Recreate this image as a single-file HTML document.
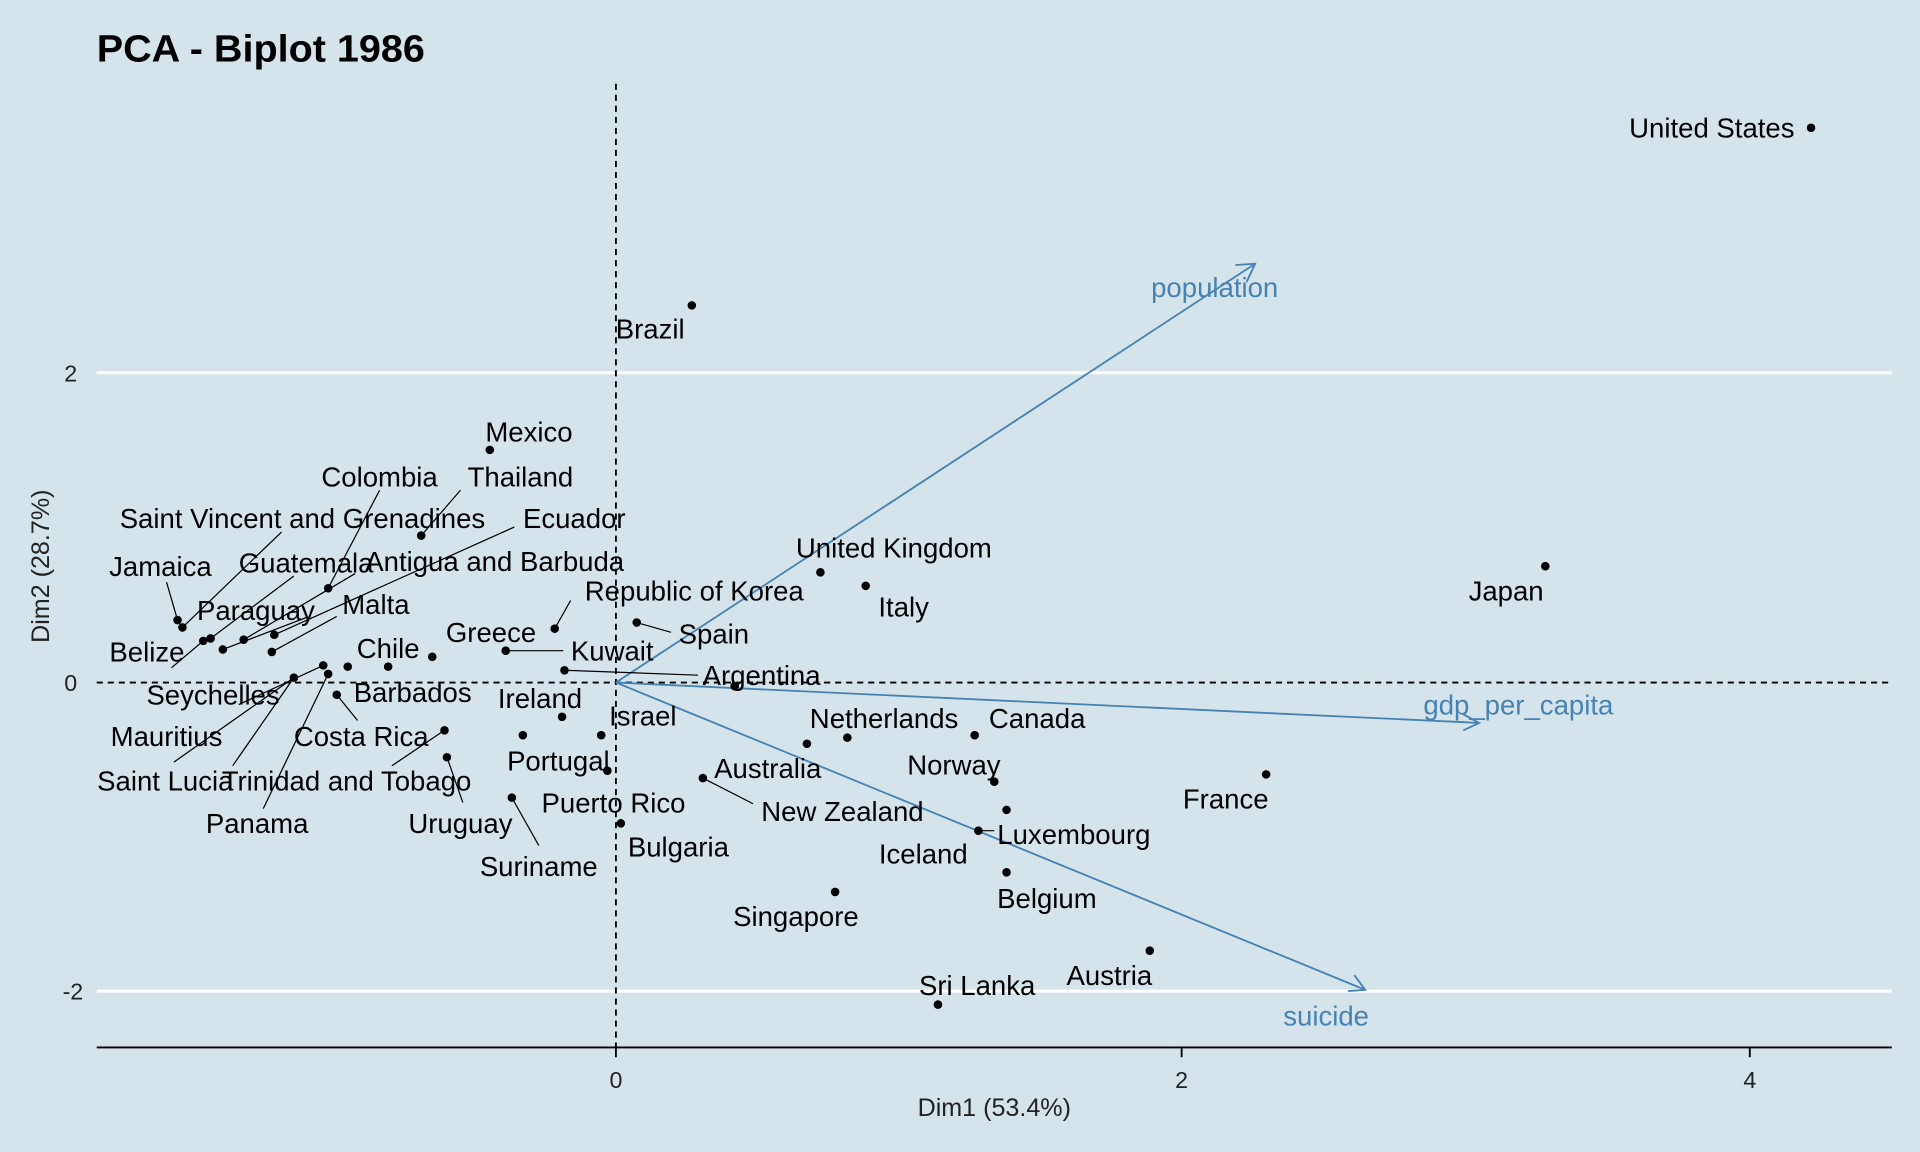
<!DOCTYPE html>
<html><head><meta charset="utf-8"><style>
html,body{margin:0;padding:0;background:#d5e4eb;}
svg{display:block;}
text{font-family:"Liberation Sans",Arial,sans-serif;}
</style></head><body>
<svg width="1920" height="1152" viewBox="0 0 1568 940" xmlns="http://www.w3.org/2000/svg">
<rect width="1568" height="940" fill="#d5e4eb"/>
<text x="79" y="50" font-size="31" font-weight="bold" fill="#000" textLength="268" lengthAdjust="spacingAndGlyphs">PCA - Biplot 1986</text>
<line x1="79" y1="304" x2="1545" y2="304" stroke="#fff" stroke-width="2.5"/>
<line x1="79" y1="809" x2="1545" y2="809" stroke="#fff" stroke-width="2.5"/>
<line x1="79" y1="855" x2="1545" y2="855" stroke="#000" stroke-width="1.5"/>
<g stroke="#000" stroke-width="1.5"><line x1="503" y1="855" x2="503" y2="863"/><line x1="965" y1="855" x2="965" y2="863"/><line x1="1429" y1="855" x2="1429" y2="863"/></g>
<g font-size="19" fill="#222" text-anchor="middle"><text x="503" y="888">0</text><text x="965" y="888">2</text><text x="1429" y="888">4</text></g>
<g font-size="19" fill="#222" text-anchor="end"><text x="63" y="311">2</text><text x="63" y="564">0</text><text x="68" y="816">-2</text></g>
<text x="812" y="911" font-size="20.5" text-anchor="middle" fill="#222">Dim1 (53.4%)</text>
<text transform="translate(40,462) rotate(-90)" font-size="20.5" text-anchor="middle" fill="#222">Dim2 (28.7%)</text>
<line x1="503" y1="68" x2="503" y2="855" stroke="#000" stroke-width="1.5" stroke-dasharray="5,4"/>
<line x1="79" y1="557" x2="1545" y2="557" stroke="#000" stroke-width="1.5" stroke-dasharray="5,4"/>
<g stroke="#4682b4" stroke-width="1.5" fill="none">
<line x1="503" y1="557" x2="1025" y2="215"/><polyline points="1009,216 1025,215 1018,230"/>
<line x1="503" y1="557" x2="1208" y2="590"/><polyline points="1195,583 1208,590 1195,596"/>
<line x1="503" y1="557" x2="1115" y2="808"/><polyline points="1101,809 1115,808 1106,796"/>
</g>
<g font-size="22.5" fill="#4682b4" text-anchor="middle"><text x="992" y="242">population</text><text x="1240" y="583">gdp_per_capita</text><text x="1083" y="837">suicide</text></g>
<g stroke="#000" stroke-width="1" fill="none">
<line x1="344" y1="437" x2="376" y2="400"/><line x1="268" y1="480" x2="310" y2="400"/><line x1="149" y1="512" x2="230" y2="434"/><line x1="224" y1="518" x2="420" y2="430"/><line x1="145" y1="506" x2="136" y2="475"/><line x1="172" y1="521" x2="240" y2="470"/><line x1="199" y1="522" x2="290" y2="468"/><line x1="182" y1="530" x2="250" y2="504"/><line x1="222" y1="532" x2="275" y2="503"/><line x1="166" y1="523" x2="140" y2="545"/><line x1="453" y1="513" x2="466" y2="490"/><line x1="520" y1="508" x2="548" y2="516"/><line x1="413" y1="531" x2="460" y2="531"/><line x1="461" y1="547" x2="570" y2="551"/><line x1="264" y1="543" x2="195" y2="575"/><line x1="240" y1="553" x2="142" y2="622"/><line x1="240" y1="553" x2="190" y2="625"/><line x1="268" y1="550" x2="215" y2="660"/><line x1="275" y1="567" x2="292" y2="588"/><line x1="363" y1="596" x2="320" y2="625"/><line x1="365" y1="618" x2="378" y2="655"/><line x1="418" y1="651" x2="440" y2="690"/><line x1="574" y1="635" x2="615" y2="656"/><line x1="799" y1="678" x2="812" y2="678"/>
</g>
<g fill="#000">
<circle cx="1479" cy="104" r="3.5"/><circle cx="565" cy="249" r="3.5"/><circle cx="400" cy="367" r="3.5"/><circle cx="344" cy="437" r="3.5"/><circle cx="1262" cy="462" r="3.5"/><circle cx="670" cy="467" r="3.5"/><circle cx="707" cy="478" r="3.5"/><circle cx="268" cy="480" r="3.5"/><circle cx="453" cy="513" r="3.5"/><circle cx="520" cy="508" r="3.5"/><circle cx="145" cy="506" r="3.5"/><circle cx="149" cy="512" r="3.5"/><circle cx="166" cy="523" r="3.5"/><circle cx="172" cy="521" r="3.5"/><circle cx="182" cy="530" r="3.5"/><circle cx="199" cy="522" r="3.5"/><circle cx="224" cy="518" r="3.5"/><circle cx="222" cy="532" r="3.5"/><circle cx="264" cy="543" r="3.5"/><circle cx="284" cy="544" r="3.5"/><circle cx="317" cy="544" r="3.5"/><circle cx="353" cy="536" r="3.5"/><circle cx="413" cy="531" r="3.5"/><circle cx="461" cy="547" r="3.5"/><circle cx="240" cy="553" r="3.5"/><circle cx="268" cy="550" r="3.5"/><circle cx="600" cy="560" r="3.5"/><circle cx="275" cy="567" r="3.5"/><circle cx="459" cy="585" r="3.5"/><circle cx="363" cy="596" r="3.5"/><circle cx="427" cy="600" r="3.5"/><circle cx="491" cy="600" r="3.5"/><circle cx="659" cy="607" r="3.5"/><circle cx="692" cy="602" r="3.5"/><circle cx="796" cy="600" r="3.5"/><circle cx="365" cy="618" r="3.5"/><circle cx="496" cy="629" r="3.5"/><circle cx="574" cy="635" r="3.5"/><circle cx="812" cy="638" r="3.5"/><circle cx="418" cy="651" r="3.5"/><circle cx="507" cy="672" r="3.5"/><circle cx="822" cy="661" r="3.5"/><circle cx="1034" cy="632" r="3.5"/><circle cx="799" cy="678" r="3.5"/><circle cx="822" cy="712" r="3.5"/><circle cx="682" cy="728" r="3.5"/><circle cx="939" cy="776" r="3.5"/><circle cx="766" cy="820" r="3.5"/>
</g>
<g font-size="22.5" fill="#000" text-anchor="middle">
<text x="1398" y="112">United States</text><text x="531" y="276">Brazil</text><text x="432" y="360">Mexico</text><text x="425" y="397">Thailand</text><text x="310" y="397">Colombia</text><text x="247" y="431">Saint Vincent and Grenadines</text><text x="469" y="431">Ecuador</text><text x="131" y="470">Jamaica</text><text x="250" y="467">Guatemala</text><text x="404" y="466">Antigua and Barbuda</text><text x="209" y="506">Paraguay</text><text x="307" y="501">Malta</text><text x="120" y="540">Belize</text><text x="317" y="537">Chile</text><text x="401" y="524">Greece</text><text x="500" y="539">Kuwait</text><text x="567" y="490">Republic of Korea</text><text x="583" y="525">Spain</text><text x="738" y="503">Italy</text><text x="730" y="455">United Kingdom</text><text x="1230" y="490">Japan</text><text x="174" y="575">Seychelles</text><text x="337" y="573">Barbados</text><text x="441" y="578">Ireland</text><text x="622" y="559">Argentina</text><text x="525" y="592">Israel</text><text x="136" y="609">Mauritius</text><text x="295" y="609">Costa Rica</text><text x="722" y="594">Netherlands</text><text x="847" y="594">Canada</text><text x="135" y="645">Saint Lucia</text><text x="283" y="645">Trinidad and Tobago</text><text x="456" y="629">Portugal</text><text x="627" y="635">Australia</text><text x="779" y="632">Norway</text><text x="210" y="680">Panama</text><text x="376" y="680">Uruguay</text><text x="501" y="663">Puerto Rico</text><text x="688" y="670">New Zealand</text><text x="1001" y="660">France</text><text x="877" y="689">Luxembourg</text><text x="440" y="715">Suriname</text><text x="554" y="699">Bulgaria</text><text x="754" y="705">Iceland</text><text x="855" y="741">Belgium</text><text x="650" y="756">Singapore</text><text x="906" y="804">Austria</text><text x="798" y="812">Sri Lanka</text>
</g>
</svg>
</body></html>
